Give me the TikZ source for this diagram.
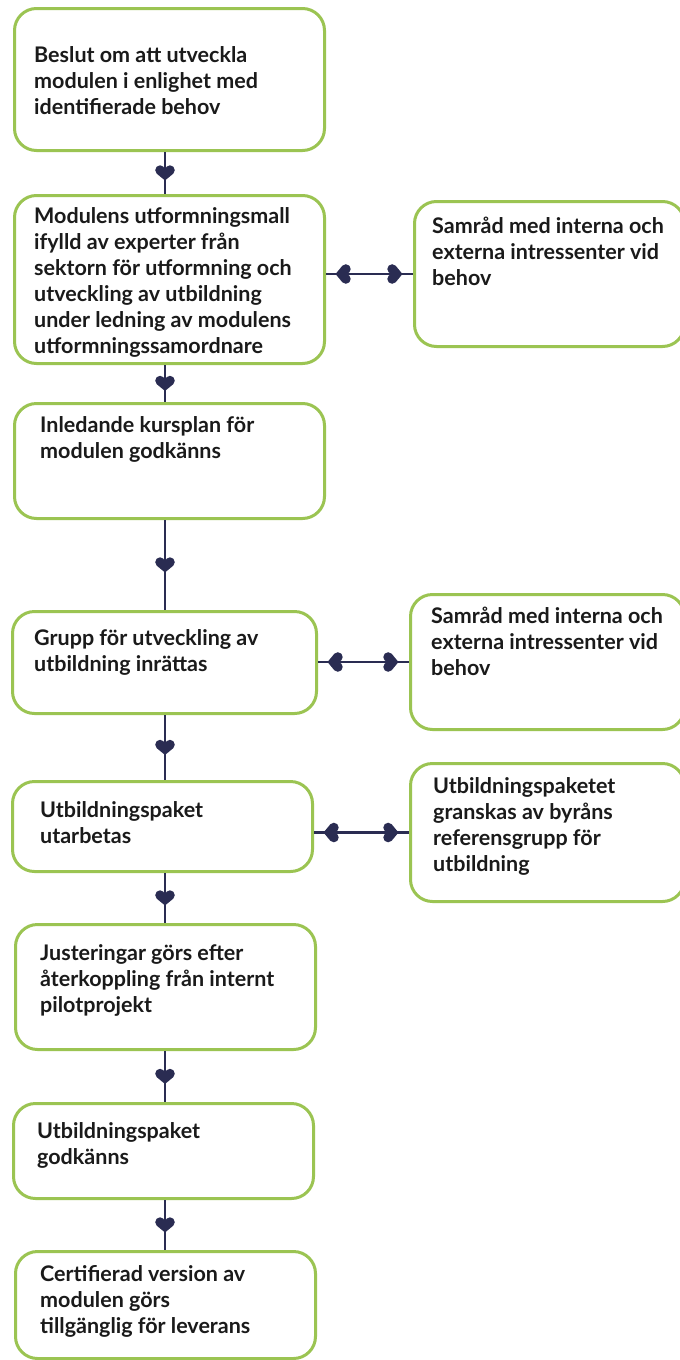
\documentclass[tikz,border=0pt]{standalone}
\usepackage{fontspec}
\setmainfont{Lato}
\usetikzlibrary{decorations.markings}
\definecolor{boxgreen}{HTML}{9BC452}
\definecolor{navy}{HTML}{2A2C52}
\definecolor{ink}{HTML}{1A1A1A}
\newcommand\myheart{\fill[navy, scale=1.15] (6.5,0) -- (0.73,6.97) -- (-2.5,4.3) -- (-2.5,-4.3) -- (0.73,-6.97) -- cycle (-2.5,4.3) circle[radius=4.2] (-2.5,-4.3) circle[radius=4.2];}
\newcommand\myheartback{\begin{scope}[xscale=-1]\myheart\end{scope}}
\begin{document}
\begin{tikzpicture}[x=1pt,y=-1pt,
  box/.style={draw=boxgreen, line width=3pt, rounded corners=22pt, fill=white, inner sep=0pt, anchor=north west},
  txt/.style={anchor=base west, align=left, inner sep=0pt, text=ink, font=\bfseries\fontsize{21.5}{26}\selectfont},
  vconn/.style={draw=navy, line width=2.5pt, postaction={decorate},
    decoration={markings, mark=at position 0.5 with {\myheart}}},
  hconn/.style={draw=navy, line width=2.5pt, postaction={decorate},
    decoration={markings, mark=at position 17pt with {\myheartback}, mark=at position -18pt with {\myheart}}}]
\useasboundingbox (0,0) rectangle (680,1360);
\fill[white] (0,0) rectangle (680,1360);
\coordinate (spine) at (165,0);
% boxes
\node[box, minimum width=310pt, minimum height=142pt] (b1) at (13,7) {};
\node[box, minimum width=310pt, minimum height=168pt] (b2) at (13,194) {};
\node[box, minimum width=310pt, minimum height=115pt] (b3) at (13,402) {};
\node[box, minimum width=304pt, minimum height=102pt] (b4) at (11,610) {};
\node[box, minimum width=300pt, minimum height=90pt] (b5) at (11,780) {};
\node[box, minimum width=300pt, minimum height=125pt] (b6) at (14,923) {};
\node[box, minimum width=300pt, minimum height=95pt] (b7) at (12,1102) {};
\node[box, minimum width=300pt, minimum height=107pt] (b8) at (14,1250) {};
\node[box, minimum width=270pt, minimum height=145pt] (r1) at (413,200) {};
\node[box, minimum width=274pt, minimum height=135pt] (r2) at (409,593) {};
\node[box, minimum width=274pt, minimum height=138pt] (r3) at (409,762) {};
% texts (anchored at the baseline of the last line)
\node[txt] (t1) at (34,114) {Beslut om att utveckla\\modulen i enlighet med\\identifierade behov};
\node[txt] (t2) at (34,353) {Modulens utformningsmall\\ifylld av experter från\\sektorn för utformning och\\utveckling av utbildning\\under ledning av modulens\\utformningssamordnare};
\node[txt] (t3) at (40,458) {Inledande kursplan för\\modulen godkänns};
\node[txt] (t4) at (34,671) {Grupp för utveckling av\\utbildning inrättas};
\node[txt] (t5) at (40,843) {Utbildningspaket\\utarbetas};
\node[txt] (t6) at (40,1012) {Justeringar görs efter\\återkoppling från internt\\pilotprojekt};
\node[txt] (t7) at (37,1164) {Utbildningspaket\\godkänns};
\node[txt] (t8) at (40,1333) {Certifierad version av\\modulen görs\\tillgänglig för leverans};
\node[txt] (u1) at (432,285) {Samråd med interna och\\externa intressenter vid\\behov};
\node[txt] (u2) at (431,675) {Samråd med interna och\\externa intressenter vid\\behov};
\node[txt] (u3) at (433,871) {Utbildningspaketet\\granskas av byråns\\referensgrupp för\\utbildning};
% vertical connectors
\draw[vconn] (b1.south -| spine) -- (b2.north -| spine);
\draw[vconn] (b2.south -| spine) -- (b3.north -| spine);
\draw[vconn] (b3.south -| spine) -- (b4.north -| spine);
\draw[vconn] (b4.south -| spine) -- (b5.north -| spine);
\draw[vconn] (b5.south -| spine) -- (b6.north -| spine);
\draw[vconn] (b6.south -| spine) -- (b7.north -| spine);
\draw[vconn] (b7.south -| spine) -- (b8.north -| spine);
% horizontal connectors
\draw[hconn] (r1.west -| b2.east) -- (r1.west);
\draw[hconn] (r2.west -| b4.east) -- (r2.west);
\draw[hconn] (r3.west -| b5.east) -- (r3.west);
\end{tikzpicture}
\end{document}
